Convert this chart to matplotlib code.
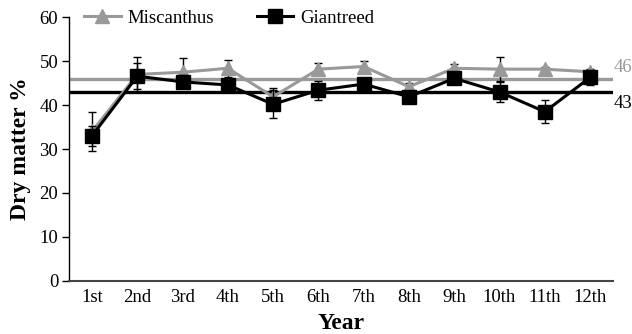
import matplotlib
matplotlib.use("Agg")
import matplotlib.pyplot as plt
from matplotlib.lines import Line2D
import numpy as np

years = ["1st", "2nd", "3rd", "4th", "5th", "6th", "7th", "8th", "9th", "10th", "11th", "12th"]
miscanthus = [34.0, 47.0, 47.5, 48.4, 41.9, 48.2, 48.8, 44.2, 48.4, 48.2, 48.2, 47.6]
miscanthus_err = [4.5, 4.0, 3.2, 2.0, 2.0, 1.3, 1.2, 0.9, 1.0, 2.8, 0.5, 0.6]
giantreed = [33.0, 46.6, 45.3, 44.6, 40.2, 43.4, 44.8, 41.9, 46.1, 43.0, 38.5, 46.3]
giantreed_err = [2.3, 3.0, 1.5, 0.8, 3.2, 2.2, 0.5, 0.5, 0.8, 2.3, 2.6, 1.8]
mean_miscanthus = 46
mean_giantreed = 43

plt.rcParams["font.family"] = ["Liberation Serif", "DejaVu Serif"]

GRAY = "#999999"
BLACK = "#000000"
FS = 13.5

fig = plt.figure(figsize=(6.32, 3.34), dpi=100)
ax = fig.add_axes([0.1097, 0.1596, 0.8598, 0.7884])

x = np.arange(len(years)) + 0.5

ax.axhline(mean_miscanthus, color=GRAY, lw=2.4, zorder=1)
ax.axhline(mean_giantreed, color=BLACK, lw=2.4, zorder=1)

ax.errorbar(x, giantreed, yerr=giantreed_err, color=BLACK, lw=2.2,
            marker="s", ms=9.5, elinewidth=1.0, capsize=3, capthick=1.0,
            zorder=3)
ax.errorbar(x, miscanthus, yerr=miscanthus_err, color=GRAY, lw=2.2,
            marker="^", ms=9.5, elinewidth=1.0, capsize=3, capthick=1.0,
            ecolor=BLACK, zorder=2)

ax.text(12.02, mean_miscanthus + 0.7, str(mean_miscanthus), color=GRAY,
        fontsize=FS, ha="left", va="bottom", clip_on=False)
ax.text(12.02, mean_giantreed - 0.7, str(mean_giantreed), color=BLACK,
        fontsize=FS, ha="left", va="top", clip_on=False)

ax.set_xlim(0, 12)
ax.set_ylim(0, 60)
ax.set_xticks(x)
ax.set_xticklabels(years)
ax.set_yticks(np.arange(0, 61, 10))
ax.tick_params(axis="x", length=0, labelsize=FS, pad=6)
ax.tick_params(axis="y", length=5, width=1.0, labelsize=FS, pad=3)
for side in ("top", "right"):
    ax.spines[side].set_visible(False)
ax.spines["left"].set_linewidth(1.0)
ax.spines["bottom"].set_linewidth(1.5)
ax.spines["bottom"].set_color("#444444")

ax.set_xlabel("Year", fontsize=17, fontweight="bold", labelpad=5)
ax.set_ylabel("Dry matter %", fontsize=17, fontweight="bold", labelpad=6)

legend_handles = [
    Line2D([], [], color=GRAY, lw=2.2, marker="^", ms=9.5),
    Line2D([], [], color=BLACK, lw=2.2, marker="s", ms=9.5),
]
fig.legend(legend_handles, ["Miscanthus", "Giantreed"],
           loc="center left", bbox_to_anchor=(0.118, 0.945), ncol=2,
           frameon=False, fontsize=FS, handlelength=1.95,
           handletextpad=0.35, columnspacing=2.3, borderpad=0.0)

fig.savefig("out.png", dpi=100)
